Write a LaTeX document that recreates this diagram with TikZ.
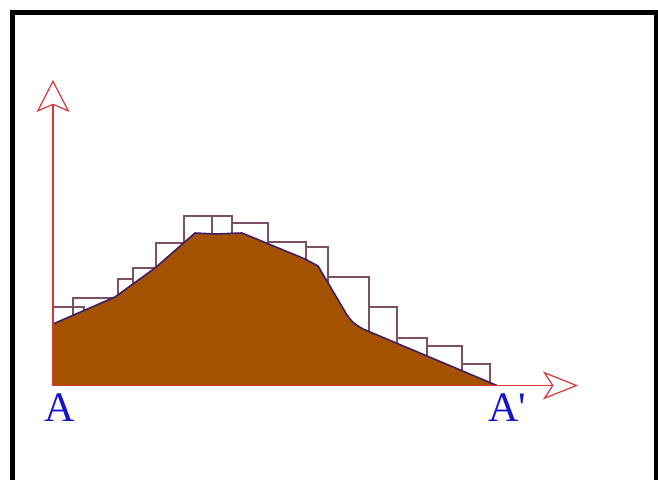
\documentclass[tikz,border=0pt]{standalone}
\usepackage{fontspec}
\setmainfont{Liberation Serif}
\usetikzlibrary{arrows.meta}
\definecolor{soil}{RGB}{165,82,0}
\definecolor{edgec}{RGB}{60,30,100}
\definecolor{stepc}{RGB}{125,80,100}
\definecolor{axisc}{RGB}{215,55,55}
\definecolor{lblc}{RGB}{20,20,200}
\tikzset{
  stepbox/.style={draw=stepc, line width=1.3pt},
  axisline/.style={draw=axisc, line width=1.2pt},
  lbl/.style={text=lblc, inner sep=0pt, font=\fontsize{42}{42}\selectfont},
}
\begin{document}
\begin{tikzpicture}[x=1pt,y=-1pt]
\useasboundingbox (0,0) rectangle (658,479);
\clip (0,0) rectangle (658,479);
\fill[white] (0,0) rectangle (658,479);
\draw[line width=5pt] (12.5,12.5) rectangle (656,500);
% steps
\foreach \a/\b/\t in {53/84/307, 73/118/298, 118/133/279, 133/156/268, 156/184/243, 184/212/216, 212/232/216, 232/268/223, 268/306/242, 306/328/247, 328/369/277, 369/397/307, 397/427/338, 427/462/346, 462/490/364}
  \draw[stepbox] (\a,385.5) rectangle (\b,\t);
% profile
\fill[soil] (53,385.5) -- (53,324) -- (115,297) -- (155,268) -- (195,233) -- (215,234) -- (242,233) -- (305,259) -- (318,266) -- (347,315) .. controls (353,323) .. (363,329) -- (497,385.5) -- cycle;
\draw[edgec, line width=1.6pt, line join=round] (53,324) -- (115,297) -- (155,268) -- (195,233) -- (215,234) -- (242,233) -- (305,259) -- (318,266) -- (347,315) .. controls (353,323) .. (363,329) -- (497,385.5);
% axes
\coordinate (O) at (53,385.5);
\coordinate (Y) at (53,80);
\coordinate (X) at (578,385.5);
\draw[axisline, -{Stealth[open, length=32pt, width=33pt, inset=7pt]}] (O) -- (Y);
\draw[axisline, -{Stealth[open, length=35pt, width=28pt, inset=9pt]}] (O) -- (X);
% labels
\node[lbl, anchor=base west] (A) at (44,421) {A};
\node[lbl, anchor=base west] (A2) at (488,421) {A\textquotesingle};
\end{tikzpicture}
\end{document}
